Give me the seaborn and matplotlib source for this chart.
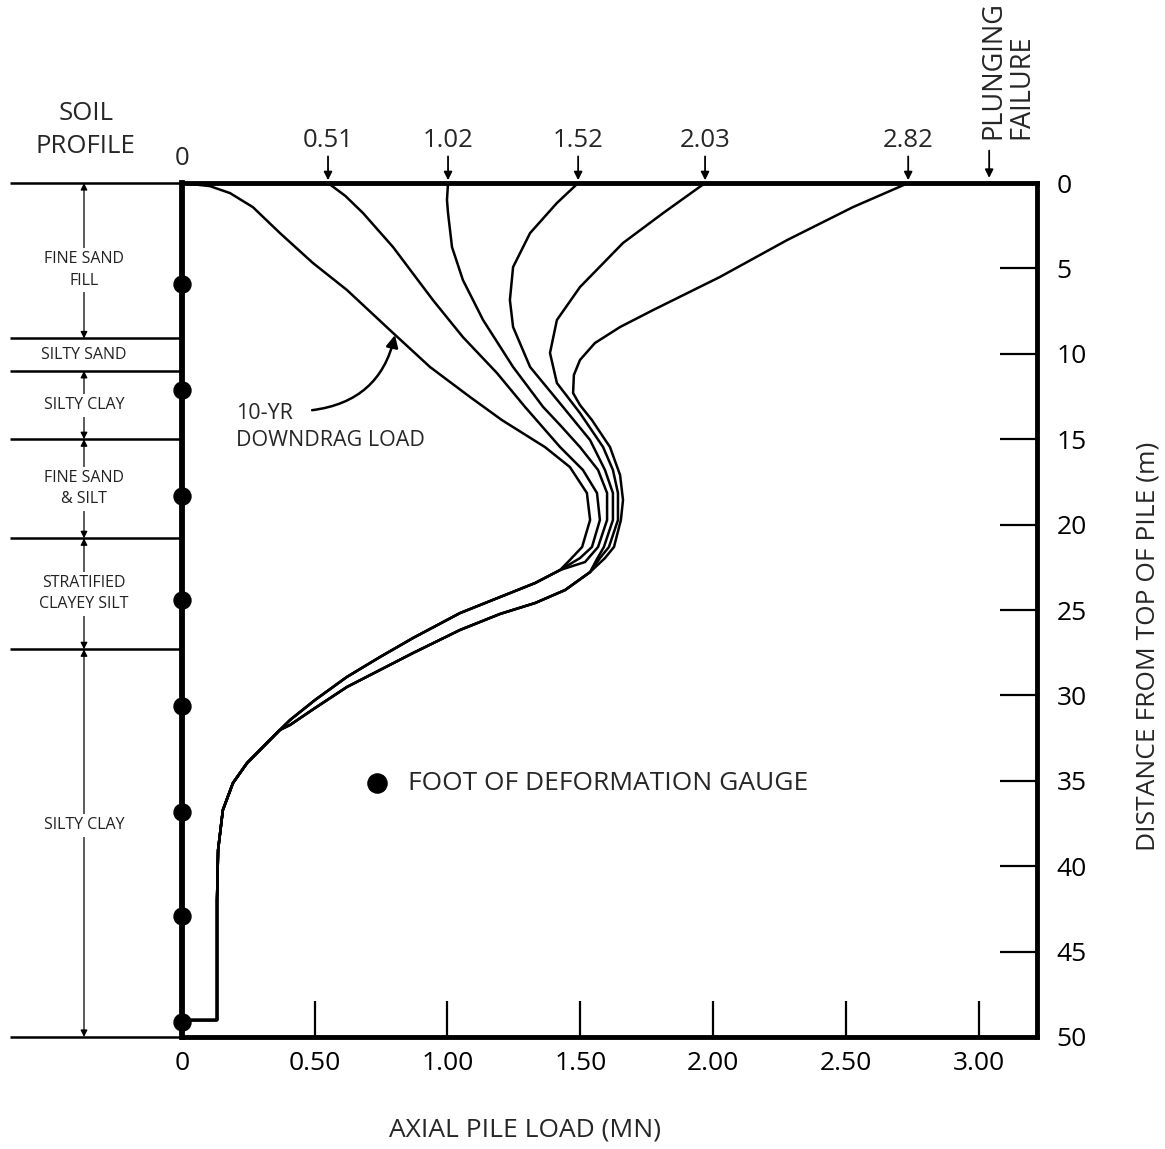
import matplotlib

matplotlib.use("Agg")
import matplotlib.pyplot as plt
import numpy as np
import pandas as pd
import seaborn as sns

# axial load (MN) against depth (m)
downdrag_depth = [0.0, 0.18, 0.59, 1.41, 2.93, 4.68, 6.26, 8.78, 10.77, 12.53, 13.88, 15.46, 16.63, 18.15, 19.73, 21.31, 22.07]
downdrag_load = [0.0, 0.105, 0.181, 0.267, 0.369, 0.493, 0.621, 0.795, 0.934, 1.085, 1.205, 1.367, 1.461, 1.525, 1.537, 1.507, 1.461]

load051_depth = [0.0, 0.75, 1.76, 3.75, 6.85, 9.02, 11.12, 13.11, 15.46, 16.80, 18.15, 19.73, 21.31, 21.96]
load051_load = [0.55, 0.615, 0.682, 0.795, 0.945, 1.058, 1.186, 1.292, 1.424, 1.510, 1.563, 1.574, 1.544, 1.499]

load102_depth = [0.0, 0.99, 1.76, 3.75, 5.68, 8.02, 10.77, 13.11, 14.17, 15.46, 16.80, 18.15, 19.73, 21.31, 22.19]
load102_load = [1.002, 0.998, 1.002, 1.017, 1.058, 1.134, 1.247, 1.360, 1.424, 1.499, 1.567, 1.601, 1.601, 1.567, 1.518]

load152_depth = [0.0, 1.17, 2.93, 4.92, 6.85, 8.43, 10.77, 13.11, 15.05, 16.80, 18.15, 19.73, 21.31, 22.10]
load152_load = [1.492, 1.412, 1.311, 1.247, 1.235, 1.247, 1.311, 1.435, 1.537, 1.593, 1.623, 1.623, 1.589, 1.560]

load203_depth = [0.0, 1.76, 3.51, 6.09, 8.02, 9.95, 11.71, 13.47, 15.46, 16.80, 18.15, 19.73, 21.31, 21.96]
load203_load = [1.970, 1.812, 1.661, 1.499, 1.412, 1.386, 1.412, 1.499, 1.586, 1.623, 1.642, 1.642, 1.608, 1.574]

load282_depth = [0.0, 1.41, 3.34, 5.50, 7.44, 8.43, 9.37, 10.36, 11.24, 12.30, 13.00, 13.88, 15.46, 17.10, 18.56, 19.73, 21.31, 21.96]
load282_load = [2.735, 2.527, 2.279, 2.026, 1.774, 1.650, 1.555, 1.499, 1.476, 1.473, 1.499, 1.544, 1.612, 1.650, 1.661, 1.653, 1.627, 1.593]

# shared lower parts where the curves run together
upper_branch_depth = [22.66, 23.42, 24.24, 25.18, 26.64, 27.75, 28.92, 30.27, 31.44]
upper_branch_load = [1.424, 1.330, 1.198, 1.047, 0.870, 0.746, 0.621, 0.501, 0.407]
lower_branch_depth = [22.78, 23.83, 24.59, 25.23, 26.17, 27.52, 28.51, 29.51, 30.74, 31.73]
lower_branch_load = [1.537, 1.443, 1.330, 1.198, 1.047, 0.870, 0.746, 0.621, 0.501, 0.407]
tail_depth = [32.02, 33.96, 35.13, 36.71, 39.05, 41.98, 49.01, 49.01]
tail_load = [0.369, 0.245, 0.192, 0.154, 0.136, 0.132, 0.132, 0.0]

top_labels = ["0.51", "1.02", "1.52", "2.03", "2.82"]
plunging_load = 3.04

gauge_depths = [5.9, 12.1, 18.3, 24.4, 30.6, 36.8, 42.9, 49.1]

layer_tops = [0.0, 9.1, 11.0, 15.0, 20.8, 27.3]
layer_bottoms = [9.1, 11.0, 15.0, 20.8, 27.3, 50.0]
layer_names = ["FINE SAND\nFILL", "SILTY SAND", "SILTY CLAY", "FINE SAND\n& SILT", "STRATIFIED\nCLAYEY SILT", "SILTY CLAY"]
layer_label_depths = [5.1, 10.05, 13.0, 17.9, 24.05, 37.6]

x_ticks = [0, 0.5, 1.0, 1.5, 2.0, 2.5, 3.0]
x_ticklabels = ["0", "0.50", "1.00", "1.50", "2.00", "2.50", "3.00"]
y_ticks = list(range(0, 55, 5))


def build_curve(depth, load, branch):
    if branch == "upper":
        d = depth + upper_branch_depth + tail_depth
        l = load + upper_branch_load + tail_load
    else:
        d = depth + lower_branch_depth + tail_depth
        l = load + lower_branch_load + tail_load
    return pd.DataFrame({"load": l, "depth": d})


curves = [
    build_curve(downdrag_depth, downdrag_load, "upper"),
    build_curve(load051_depth, load051_load, "upper"),
    build_curve(load102_depth, load102_load, "upper"),
    build_curve(load152_depth, load152_load, "lower"),
    build_curve(load203_depth, load203_load, "lower"),
    build_curve(load282_depth, load282_load, "lower"),
]

sns.set_theme(style="white")
plt.rcParams["font.family"] = ["Open Sans", "DejaVu Sans"]

fig = plt.figure(figsize=(11.65, 11.49), dpi=100)
ax = fig.add_axes([0.1562, 0.0975, 0.7339, 0.7432])

for df in curves:
    sns.lineplot(data=df, x="load", y="depth", sort=False, estimator=None,
                 color="black", lw=1.8, ax=ax, clip_on=False)

gauges = pd.DataFrame({"load": [0.0] * len(gauge_depths), "depth": gauge_depths})
sns.scatterplot(data=gauges, x="load", y="depth", color="black", s=150,
                edgecolor="black", zorder=5, clip_on=False, ax=ax)

ax.set_xlim(0, 3.22)
ax.set_ylim(50, 0)
for side in ["top", "bottom", "left", "right"]:
    ax.spines[side].set_visible(True)
    ax.spines[side].set_color("black")
    ax.spines[side].set_linewidth(3.5)
ax.spines["left"].set_linewidth(4.2)

ax.set_xticks(x_ticks)
ax.set_xticklabels(x_ticklabels)
ax.tick_params(axis="x", direction="in", length=26, width=1.6, pad=10,
               labelsize=19, bottom=True, colors="black")
ax.yaxis.tick_right()
ax.set_yticks(y_ticks)
ax.tick_params(axis="y", direction="in", length=27, width=1.6, pad=14,
               labelsize=19, right=True, left=False, colors="black")
ax.set_xlabel("")
ax.set_ylabel("")

# load labels with arrows above the pile head
starts = [load051_load[0], load102_load[0], load152_load[0], load203_load[0], load282_load[0]]
for lab, x0 in zip(top_labels, starts):
    ax.annotate(lab, xy=(x0, 0), xytext=(x0, -1.75), ha="center", va="bottom",
                fontsize=18.5, annotation_clip=False,
                arrowprops=dict(arrowstyle="-|>", color="black", lw=1.3,
                                mutation_scale=12, shrinkA=0, shrinkB=2))
ax.text(0, -0.7, "0", ha="center", va="bottom", fontsize=18.5, clip_on=False)
ax.annotate("", xy=(plunging_load, -0.3), xytext=(plunging_load, -1.9),
            annotation_clip=False,
            arrowprops=dict(arrowstyle="-|>", color="black", lw=1.3,
                            mutation_scale=12, shrinkA=0, shrinkB=0))
ax.text(plunging_load + 0.07, -2.6, "PLUNGING\nFAILURE", rotation=90,
        ha="center", va="bottom", multialignment="left", fontsize=19.5,
        linespacing=1.0, clip_on=False)

# soil profile on the left
x_left = -0.648
x_dim = -0.369
ax.text(-0.362, -3.1, "SOIL\nPROFILE", ha="center", va="center", fontsize=18.5,
        linespacing=1.45, clip_on=False)
for d in sorted(set(layer_tops + layer_bottoms)):
    ax.plot([x_left, 0], [d, d], color="black", lw=1.8, clip_on=False,
            solid_capstyle="butt")
for top, bot, name, yl in zip(layer_tops, layer_bottoms, layer_names, layer_label_depths):
    if bot - top > 3:
        ax.annotate("", xy=(x_dim, top), xytext=(x_dim, bot), annotation_clip=False,
                    arrowprops=dict(arrowstyle="<|-|>", color="black", lw=0.9,
                                    mutation_scale=10, shrinkA=0, shrinkB=0))
    ax.text(x_dim, yl, name, ha="center", va="center", fontsize=11.5,
            linespacing=1.45, clip_on=False, color="#222222",
            bbox=dict(fc="white", ec="none", pad=2.5))

# downdrag annotation
ax.text(0.203, 14.3, "10-YR\nDOWNDRAG LOAD", ha="left", va="center",
        fontsize=15.5, linespacing=1.35)
ax.annotate("", xy=(0.802, 8.9), xytext=(0.49, 13.3),
            arrowprops=dict(arrowstyle="-|>", color="black", lw=1.8,
                            mutation_scale=18, shrinkA=0, shrinkB=0,
                            connectionstyle="arc3,rad=0.35"))

# legend for gauge marker
ax.scatter([0.734], [35.13], s=190, color="black", zorder=5)
ax.text(0.851, 35.13, "FOOT OF DEFORMATION GAUGE", ha="left", va="center", fontsize=19)

fig.text(525 / 1165, 1 - 1130 / 1149, "AXIAL PILE LOAD (MN)", ha="center", va="center", fontsize=19)
fig.text(1148 / 1165, 1 - 646 / 1149, "DISTANCE FROM TOP OF PILE (m)", ha="center", va="center",
         rotation=90, fontsize=19)

fig.savefig("out.png", dpi=100, facecolor="white")
plt.close(fig)
